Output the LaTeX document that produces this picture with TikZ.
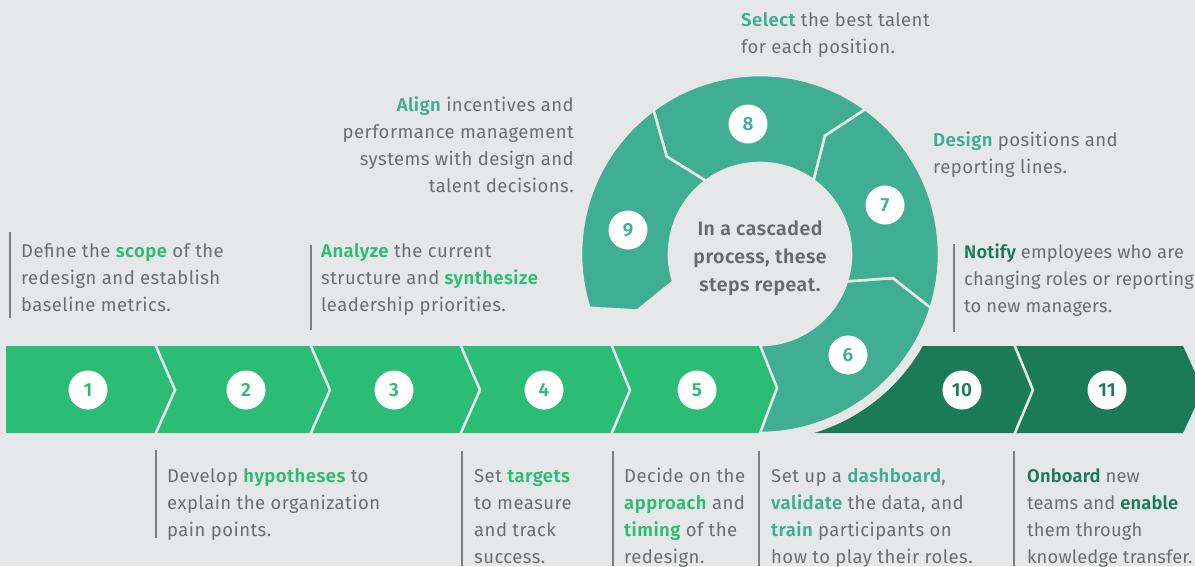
\documentclass[tikz,border=0pt]{standalone}
\usepackage{fontspec}
\setmainfont{Fira Sans}[BoldFont={Fira Sans SemiBold}, LetterSpace=2.5]
\definecolor{bgc}{HTML}{E6E7E9}
\definecolor{lgc}{HTML}{2BBC76}
\definecolor{rgc}{HTML}{3FAE92}
\definecolor{dgc}{HTML}{1B7B58}
\definecolor{txc}{HTML}{6D6E71}
\definecolor{ctc}{HTML}{6A6A6C}
\definecolor{vlc}{HTML}{7E7F82}
\newcommand\mystrut{\rule{0pt}{15pt}}
\newcommand\hlg[1]{\textcolor{lgc}{\bfseries #1}}
\newcommand\htl[1]{\textcolor{rgc}{\bfseries #1}}
\newcommand\hdg[1]{\textcolor{dgc}{\bfseries #1}}
\newcommand\ringseg[3]{%
  \filldraw[fill=#3, sep] (#1:179) arc[start angle=#1, end angle=#2, radius=179]
    -- ({#2-7.25}:135) -- (#2:91) arc[start angle=#2, end angle=#1, radius=91]
    -- ({#1-7.25}:135) -- cycle;}
\begin{document}
\begin{tikzpicture}[x=1pt,y=-1pt,
  sep/.style={draw=bgc, line width=2.6pt, line join=miter},
  num/.style={circle, fill=white, minimum size=39pt, inner sep=0pt,
    font=\fontsize{19}{19}\selectfont\bfseries},
  para/.style={anchor=north west, inner sep=0pt, align=left, text=txc,
    font=\fontsize{18.5}{27}\selectfont},
  parat/.style={para, font=\fontsize{18.3}{27}\selectfont\addfontfeature{LetterSpace=1}},
  parar/.style={para, anchor=north east, align=right},
  vline/.style={draw=vlc, line width=1.2pt}]
\fill[bgc] (0,0) rectangle (1195,566);
\useasboundingbox (0,0) rectangle (1195,566);
% light green band
\fill[lgc] (6,346) -- (760,346) -- (778,390) -- (760,433) -- (6,433) -- cycle;
\draw[sep] (155,344) -- (175,390) -- (155,435);
\draw[sep] (310,344) -- (330,390) -- (310,435);
\draw[sep] (460,344) -- (480,390) -- (460,435);
\draw[sep] (611,344) -- (630,390) -- (611,435);
% dark green band
\fill[dgc] (922.8,346) arc[start angle=29.47, end angle=73.2, radius=187]
  -- (1183,433) -- (1203,390) -- (1183,346) -- cycle;
\draw[sep] (1014,344) -- (1033,390) -- (1014,435);
% ring
\begin{scope}[shift={(760,254)}]
  \ringseg{90}{17.5}{rgc}
  \ringseg{17.5}{-54}{rgc}
  \ringseg{-54}{-126.5}{rgc}
  \ringseg{-126.5}{-197.5}{rgc}
\end{scope}
% numbers
\node[num, text=lgc] (n1) at (88,390) {1};
\node[num, text=lgc] (n2) at (246,390) {2};
\node[num, text=lgc] (n3) at (394,390) {3};
\node[num, text=lgc] (n4) at (544,390) {4};
\node[num, text=lgc] (n5) at (697,390) {5};
\node[num, text=rgc] (n6) at (848,355) {6};
\node[num, text=rgc] (n7) at (885,205) {7};
\node[num, text=rgc] (n8) at (748,124) {8};
\node[num, text=rgc] (n9) at (628,230) {9};
\node[num, text=dgc] (n10) at (962,390) {10};
\node[num, text=dgc] (n11) at (1107,390) {11};
% centre text
\node[align=center, text=ctc, font=\fontsize{19.5}{28}\selectfont\bfseries] (ctr) at (760,258)
  {In a cascaded\\process, these\\steps repeat.};
% vertical rules
\draw[vline] (10,232) -- (10,318);
\draw[vline] (311,245) -- (311,330);
\draw[vline] (954,244) -- (954,332);
\draw[vline] (156,450) -- (156,538);
\draw[vline] (462,451) -- (462,566);
\draw[vline] (613,451) -- (613,566);
\draw[vline] (759,451) -- (759,566);
\draw[vline] (1014,451) -- (1014,566);
% texts
\node[para] (t1) at (21,242.5) {\mystrut Define the \hlg{scope} of the\\redesign and establish\\baseline metrics.};
\node[para] (t3) at (321,242.5) {\mystrut\hlg{Analyze} the current\\structure and \hlg{synthesize}\\leadership priorities.};
\node[parat] (t12) at (964,243) {\mystrut\hdg{Notify} employees who are\\changing roles or reporting\\to new managers.};
\node[para] (t7) at (933,131) {\mystrut\htl{Design} positions and\\reporting lines.};
\node[para] (t8) at (741,11) {\mystrut\htl{Select} the best talent\\for each position.};
\node[parar] (t9) at (574,96) {\mystrut\htl{Align} incentives and\\performance management\\systems with design and\\talent decisions.};
\node[para] (t2) at (167,467) {\mystrut Develop \hlg{hypotheses} to\\explain the organization\\pain points.};
\node[para] (t4) at (474,467) {\mystrut Set \hlg{targets}\\to measure\\and track\\success.};
\node[para] (t5) at (624,467) {\mystrut Decide on the\\\hlg{approach} and\\\hlg{timing} of the\\redesign.};
\node[para] (t6) at (771,467) {\mystrut Set up a \htl{dashboard},\\\htl{validate} the data, and\\\htl{train} participants on\\how to play their roles.};
\node[parat] (t11) at (1027,467) {\mystrut\hdg{Onboard} new\\teams and \hdg{enable}\\them through\\knowledge transfer.};
\end{tikzpicture}
\end{document}
